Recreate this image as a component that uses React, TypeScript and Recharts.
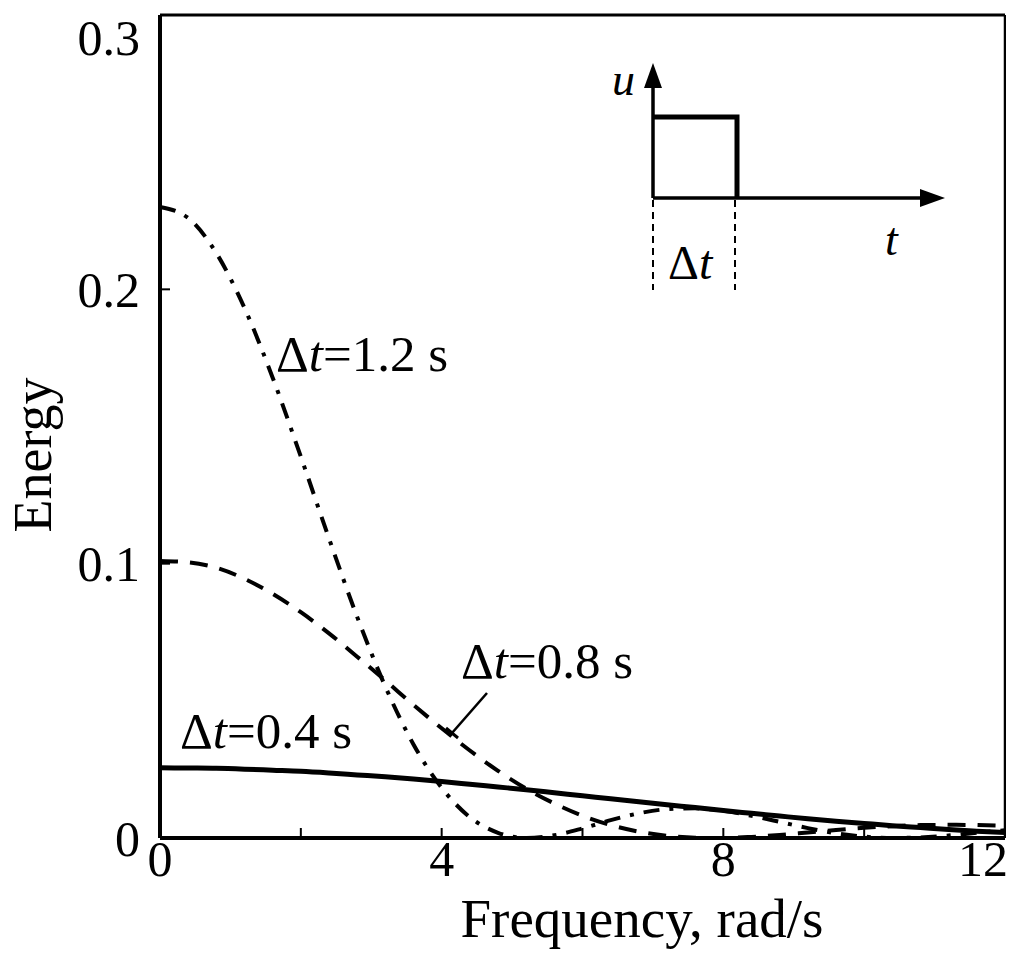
import React from "react";
import { LineChart, Line, XAxis, YAxis, ReferenceLine } from "recharts";

// frequency grid, rad/s
const FREQ = [0, 0.4, 0.8, 1.2, 1.6, 2, 2.4, 2.8, 3.2, 3.6, 4, 4.4, 4.8, 5.2, 5.6, 6, 6.4, 6.8, 7.2, 7.6, 8, 8.4, 8.8, 9.2, 9.6, 10, 10.4, 10.8, 11.2, 11.6, 12];

// energy
const E_04 = [0.0256, 0.0255, 0.0254, 0.0251, 0.0247, 0.0243, 0.0237, 0.023, 0.0223, 0.0215, 0.0206, 0.0196, 0.0186, 0.0176, 0.0165, 0.0154, 0.0143, 0.0132, 0.0121, 0.0111, 0.01, 0.009, 0.008, 0.007, 0.0061, 0.0053, 0.0045, 0.0038, 0.0031, 0.0025, 0.002];
const E_08 = [0.101, 0.1005, 0.0985, 0.0945, 0.089, 0.0823, 0.0746, 0.0661, 0.0574, 0.0485, 0.04, 0.0319, 0.0245, 0.018, 0.0126, 0.0081, 0.0047, 0.0023, 0.0008, 0.0001, 0, 0.0004, 0.0011, 0.002, 0.0029, 0.0037, 0.0043, 0.0047, 0.0048, 0.0047, 0.0044];
const E_12 = [0.23, 0.226, 0.2132, 0.1932, 0.1678, 0.139, 0.1092, 0.0806, 0.0552, 0.0341, 0.0183, 0.0076, 0.0019, 0, 0.001, 0.0035, 0.0065, 0.009, 0.0105, 0.0108, 0.0099, 0.0081, 0.0059, 0.0036, 0.0017, 0.0005, 0, 0.0002, 0.0009, 0.0019, 0.0028];

const X_TICKS = [0, 2, 4, 6, 8, 10, 12];
const Y_TICKS = [0, 0.1, 0.2, 0.3];

const FONT = "'Liberation Serif', 'Times New Roman', serif";

const data = FREQ.map((f, i) => ({ f, a: E_04[i], b: E_08[i], c: E_12[i] }));

// only every second tick gets a number; the last one is pulled inside the frame
function FreqTick(props: any) {
  const { x, y, payload } = props;
  const v = payload.value as number;
  if (v % 4 !== 0) return null;
  const last = v === X_TICKS[X_TICKS.length - 1];
  return (
    <text
      x={last ? x + 3 : x}
      y={y}
      dy={36}
      textAnchor={last ? "end" : "middle"}
      fontSize={50}
      fontFamily={FONT}
      fill="#000"
    >
      {v}
    </text>
  );
}

function DtLabel({ x, y, text }: { x: number; y: number; text: string }) {
  return (
    <text x={x} y={y} fontSize={51} fontFamily={FONT} fill="#000">
      <tspan>Δ</tspan>
      <tspan fontStyle="italic">t</tspan>
      <tspan>{text}</tspan>
    </text>
  );
}

export default function App() {
  return (
    <div style={{ position: "relative", width: 1006, height: 957 }}>
      <LineChart
        width={1006}
        height={957}
        data={data}
        margin={{ top: 7, right: 9, bottom: 27, left: 0 }}
      >
        <XAxis
          dataKey="f"
          type="number"
          domain={[0, 12]}
          ticks={X_TICKS}
          tickSize={-10}
          tickMargin={12}
          height={100}
          axisLine={{ stroke: "#000", strokeWidth: 4 }}
          tickLine={{ stroke: "#000", strokeWidth: 2 }}
          tick={<FreqTick />}
        />
        <YAxis
          type="number"
          domain={[0, 0.3]}
          ticks={Y_TICKS}
          tickFormatter={(v: number) => (v === 0 ? "0" : v.toFixed(1))}
          tickSize={-10}
          tickMargin={30}
          width={152}
          axisLine={{ stroke: "#000", strokeWidth: 4 }}
          tickLine={{ stroke: "#000", strokeWidth: 2 }}
          tick={{ fill: "#000", fontSize: 50, fontFamily: FONT }}
        />
        <ReferenceLine y={0.3} stroke="#000" strokeWidth={3} />
        <ReferenceLine x={12} stroke="#000" strokeWidth={2.5} />
        <Line
          dataKey="c"
          type="monotone"
          stroke="#000"
          strokeWidth={4}
          strokeDasharray="16 10 4 10"
          dot={false}
          isAnimationActive={false}
        />
        <Line
          dataKey="b"
          type="monotone"
          stroke="#000"
          strokeWidth={4}
          strokeDasharray="18 12"
          dot={false}
          isAnimationActive={false}
        />
        <Line
          dataKey="a"
          type="monotone"
          stroke="#000"
          strokeWidth={5}
          dot={false}
          isAnimationActive={false}
        />
      </LineChart>

      <svg
        width={1014}
        height={965}
        style={{ position: "absolute", left: -8, top: -8, pointerEvents: "none" }}
      >
        {/* axis titles */}
        <text x={642} y={937} textAnchor="middle" fontSize={55} fontFamily={FONT} fill="#000">
          Frequency, rad/s
        </text>
        <text
          x={51}
          y={455}
          textAnchor="middle"
          fontSize={54}
          fontFamily={FONT}
          fill="#000"
          transform="rotate(-90 51 455)"
        >
          Energy
        </text>

        {/* curve labels */}
        <DtLabel x={276} y={371} text="=1.2 s" />
        <DtLabel x={461} y={678} text="=0.8 s" />
        <DtLabel x={180} y={748} text="=0.4 s" />
        <line x1={487} y1={693} x2={452} y2={733} stroke="#000" strokeWidth={2.5} />
        <line x1={446} y1={728} x2={458} y2={738} stroke="#000" strokeWidth={3} />

        {/* inset: rectangular pulse */}
        <line x1={653} y1={198} x2={653} y2={82} stroke="#000" strokeWidth={3.5} />
        <polygon points="653,63 644,88 662,88" fill="#000" />
        <line x1={653} y1={198} x2={925} y2={198} stroke="#000" strokeWidth={3.5} />
        <polygon points="945,198 920,189 920,207" fill="#000" />
        <polyline points="653,117 737,117 737,198" fill="none" stroke="#000" strokeWidth={5} />
        <line x1={653} y1={200} x2={653} y2={290} stroke="#000" strokeWidth={2} strokeDasharray="7 5" />
        <line x1={735} y1={200} x2={735} y2={290} stroke="#000" strokeWidth={2} strokeDasharray="7 5" />
        <text x={612} y={95} fontSize={46} fontStyle="italic" fontFamily={FONT} fill="#000">u</text>
        <text x={885} y={255} fontSize={46} fontStyle="italic" fontFamily={FONT} fill="#000">t</text>
        <text x={668} y={279} fontSize={48} fontFamily={FONT} fill="#000">
          <tspan>Δ</tspan>
          <tspan fontStyle="italic">t</tspan>
        </text>
      </svg>
    </div>
  );
}
